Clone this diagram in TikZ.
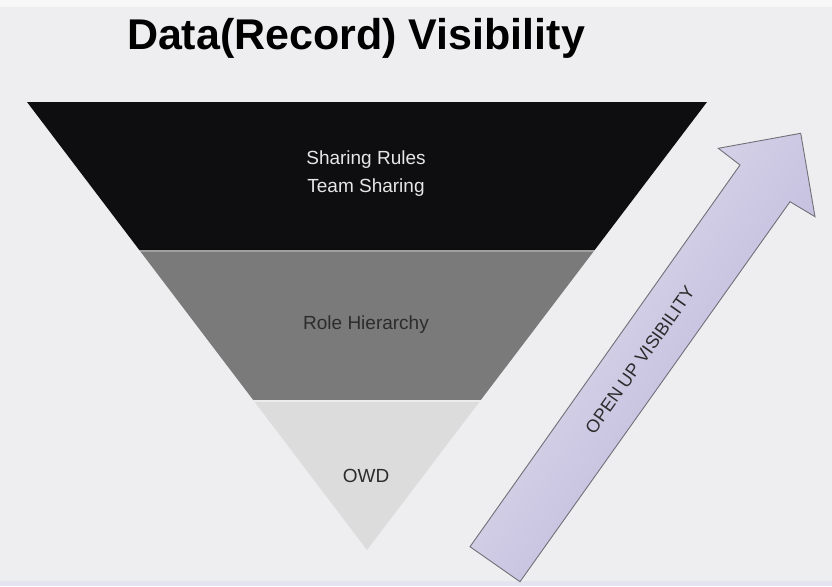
\documentclass[tikz,border=0pt]{standalone}
\usepackage{fontspec}
\setmainfont{Liberation Sans}
\definecolor{bg}{HTML}{EEEEF0}
\definecolor{band1}{HTML}{0E0E10}
\definecolor{band2}{HTML}{7A7A7A}
\definecolor{band3}{HTML}{DCDCDC}
\definecolor{arrlight}{HTML}{E4E2EF}
\definecolor{arrdark}{HTML}{B6B0D8}
\definecolor{arredge}{HTML}{707078}
\definecolor{txtdark}{HTML}{2C2C2C}
\definecolor{txtlight}{HTML}{E6E6E6}
\tikzset{
  lbl/.style={font=\fontsize{19}{28}\selectfont, align=center, inner sep=0pt},
  bigarrow/.style={draw=arredge, line width=0.9pt, line join=miter, left color=arrlight, right color=arrdark, shading angle=55},
}
\begin{document}
\begin{tikzpicture}[x=1pt,y=-1pt]
\useasboundingbox (0,0) rectangle (832,586);
\fill[bg] (0,0) rectangle (832,586);
\fill[white!60!bg] (0,0) rectangle (832,7);
\fill[blue!4!bg] (0,581) rectangle (832,586);
% title
\node[anchor=base, inner sep=0pt, font=\fontsize{43}{50}\selectfont\bfseries] (title) at (356,50) {Data(Record) Visibility};
% funnel bands
\fill[band1] (27,102) -- (707,102) -- (594.7,250) -- (139.3,250) -- cycle;
\fill[gray!75] (139.3,250) -- (594.7,250) -- (593.2,252) -- (140.8,252) -- cycle;
\fill[band2] (140.8,252) -- (593.2,252) -- (480.8,400) -- (253.2,400) -- cycle;
\fill[gray!15] (253.2,400) -- (480.8,400) -- (479.3,402) -- (254.7,402) -- cycle;
\fill[band3] (254.7,402) -- (479.3,402) -- (367,550) -- cycle;
% labels
\node[lbl, text=txtlight] (share) at (366,174) {Sharing Rules\\Team Sharing};
\node[lbl, text=txtdark] (role) at (366,325) {Role Hierarchy};
\node[lbl, text=txtdark] (owd) at (366,476) {OWD};
% arrow
\path[bigarrow] (470,546.7) -- (740,165) -- (718.3,148.3) -- (800.7,133.3) -- (815,216.7) -- (790,201.7) -- (520,581.7) -- cycle;
\node[inner sep=0pt, rotate=54.7, text=txtdark, font=\fontsize{18}{20}\selectfont] (open) at (640,360) {OPEN UP VISIBILITY};
\end{tikzpicture}
\end{document}
